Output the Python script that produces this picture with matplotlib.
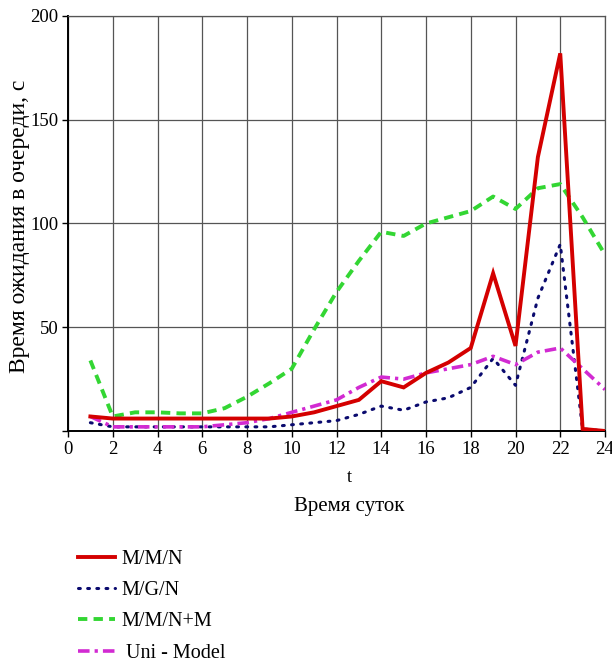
import matplotlib
matplotlib.use("Agg")
import matplotlib.pyplot as plt

plt.rcParams['font.family'] = ['Liberation Serif', 'DejaVu Serif']

# hours of the day
t = list(range(1, 25))

# waiting time in queue, s
mmn = [7, 6, 6, 6, 6, 6, 6, 6, 6, 7, 9, 12, 15, 24, 21, 28, 33, 40, 76, 41, 132, 182, 1, 0]
mgn = [4, 2, 2, 2, 2, 2, 2, 2, 2, 3, 4, 5, 8, 12, 10, 14, 16, 21, 35, 22, 64, 90, 1, 0]
mmnm = [34, 7, 9, 9, 8.5, 8.5, 11, 16.5, 23, 30, 49, 67, 82, 96, 94, 100, 103, 106, 113, 107, 117, 119, 103, 85]
uni = [7, 2, 2, 2, 2, 2, 3, 4, 6, 9, 12, 15, 21, 26, 25, 28, 30, 32, 36, 32, 38, 40, 30, 20]

labels = ['M/M/N', 'M/G/N', 'M/M/N+M', ' Uni - Model']
xticks = list(range(0, 25, 2))
yticks = [0, 50, 100, 150, 200]

W, H = 612, 662
fig = plt.figure(figsize=(W / 100, H / 100), dpi=100)
ax = fig.add_axes([68 / W, 1 - 431 / H, (605 - 68) / W, (431 - 16) / H])

l1, = ax.plot(t, mmn, color='#d40000', lw=2.8, solid_joinstyle='miter', zorder=5)
l2, = ax.plot(t, mgn, color='#0a0a6e', lw=2.2, linestyle=(0, (0.6, 2.4)),
              dash_capstyle='round', zorder=4)
l3, = ax.plot(t, mmnm, color='#33d633', lw=2.8, linestyle=(0, (2.4, 1.6)), zorder=3)
l4, = ax.plot(t, uni, color='#d22ad2', lw=2.6, linestyle=(0, (3.2, 1.4, 0.9, 1.4)), zorder=4)

ax.set_xlim(0, 24)
ax.set_ylim(0, 200)
ax.set_xticks(xticks)
ax.set_yticks(yticks)
ax.set_yticklabels([''] + [str(v) for v in yticks[1:]])
ax.tick_params(labelsize=13.5, length=4, width=1, direction='out', pad=3)
ax.grid(True, color='#555555', lw=0.9)
for s in ['top', 'right']:
    ax.spines[s].set_color('#555555')
    ax.spines[s].set_linewidth(0.9)
for s in ['left', 'bottom']:
    ax.spines[s].set_color('black')
    ax.spines[s].set_linewidth(1.4)

fig.text(20 / W, 1 - 226 / H, 'Время ожидания в очереди, с', rotation=90,
         ha='center', va='center', fontsize=17)
fig.text(349 / W, 1 - 478 / H, 't', ha='center', va='center', fontsize=13)
fig.text(349 / W, 1 - 507 / H, 'Время суток', ha='center', va='center', fontsize=15)

fig.legend([l1, l2, l3, l4], labels, loc='upper left',
           bbox_to_anchor=(78 / W, 1 - 550 / H), frameon=False, fontsize=14.5,
           handlelength=1.85, handletextpad=0.3, labelspacing=0.6,
           borderpad=0, borderaxespad=0)

fig.savefig('out.png', dpi=100)
